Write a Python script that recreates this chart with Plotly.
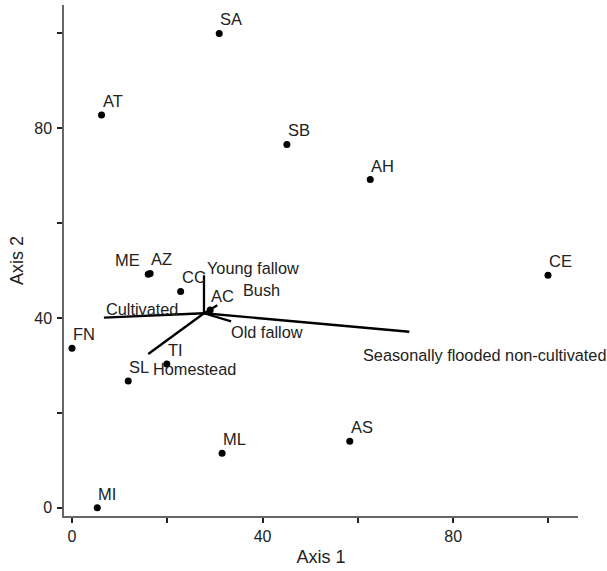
import plotly.graph_objects as go

# Site scores
site_labels = ["SA", "AT", "SB", "AH", "ME", "AZ", "CC", "AC", "CE", "FN", "TI", "SL", "AS", "ML", "MI"]
site_x = [30.9, 6.2, 45.1, 62.6, 16.0, 16.4, 22.8, 29.0, 99.9, 0.0, 19.9, 11.8, 58.3, 31.5, 5.3]
site_y = [100.0, 82.8, 76.6, 69.2, 49.2, 49.4, 45.6, 41.7, 49.0, 33.6, 30.3, 26.7, 14.0, 11.5, 0.0]
site_label_side = ["right", "right", "right", "right", "left", "right", "right", "right",
                   "right", "right", "right", "right", "right", "right", "right"]

# Environmental vectors (biplot)
vec_origin = (27.7, 41.0)
vec_labels = ["Young fallow", "Bush", "Cultivated", "Old fallow",
              "Seasonally flooded non-cultivated", "Homestead"]
vec_x = [27.7, 30.5, 6.7, 33.4, 70.8, 16.0]
vec_y = [49.0, 42.7, 40.1, 39.3, 37.1, 32.4]
vec_label_x = [28.2, 35.7, 6.9, 33.2, 60.9, 16.7]
vec_label_y = [50.5, 46.0, 41.8, 37.1, 32.3, 29.2]

tick_vals = [0, 20, 40, 60, 80, 100]
tick_text = ["0", "", "40", "", "80", ""]

FONT = "Arial, Liberation Sans, Helvetica, sans-serif"

fig = go.Figure()

# vector lines
lx, ly = [], []
for ex, ey in zip(vec_x, vec_y):
    lx += [vec_origin[0], ex, None]
    ly += [vec_origin[1], ey, None]
fig.add_trace(go.Scatter(x=lx, y=ly, mode="lines",
                         line=dict(color="black", width=2.3),
                         hoverinfo="skip", showlegend=False))

# site points
fig.add_trace(go.Scatter(x=site_x, y=site_y, mode="markers",
                         marker=dict(color="black", size=7),
                         text=site_labels, showlegend=False))

annotations = []
for lab, x, y, side in zip(site_labels, site_x, site_y, site_label_side):
    if side == "right":
        annotations.append(dict(x=x, y=y, text=lab, showarrow=False,
                                xanchor="left", yanchor="middle",
                                xshift=-1, yshift=14,
                                font=dict(family=FONT, size=16.5, color="#222")))
    else:
        annotations.append(dict(x=x, y=y, text=lab, showarrow=False,
                                xanchor="right", yanchor="middle",
                                xshift=-6, yshift=14,
                                font=dict(family=FONT, size=16.5, color="#222")))

for lab, x, y in zip(vec_labels, vec_label_x, vec_label_y):
    annotations.append(dict(x=x, y=y, text=lab, showarrow=False,
                            xanchor="left", yanchor="middle", xshift=-1,
                            font=dict(family=FONT, size=16.3, color="#222")))

axis_common = dict(
    showgrid=False, zeroline=False, automargin=False,
    showline=True, linecolor="#666", linewidth=1.5,
    ticks="outside", ticklen=5, tickwidth=1.5, tickcolor="#222",
    tickvals=tick_vals, ticktext=tick_text,
    tickfont=dict(family=FONT, size=16, color="#222"),
)

fig.update_layout(
    width=607, height=571,
    margin=dict(l=64, r=29, t=5, b=55),
    paper_bgcolor="white", plot_bgcolor="white",
    xaxis=dict(range=[-1.68, 106.2],
               title=dict(text="Axis 1", font=dict(family=FONT, size=18, color="#222"),
                          standoff=6),
               **axis_common),
    yaxis=dict(range=[-1.75, 106.0],
               title=dict(text="Axis 2", font=dict(family=FONT, size=18, color="#222"),
                          standoff=6),
               ticklabelstandoff=2,
               **axis_common),
    annotations=annotations,
)

fig.write_html("out.html",
               config={"displayModeBar": False},
               post_script="document.body.style.margin='0';document.body.style.overflow='hidden';")
